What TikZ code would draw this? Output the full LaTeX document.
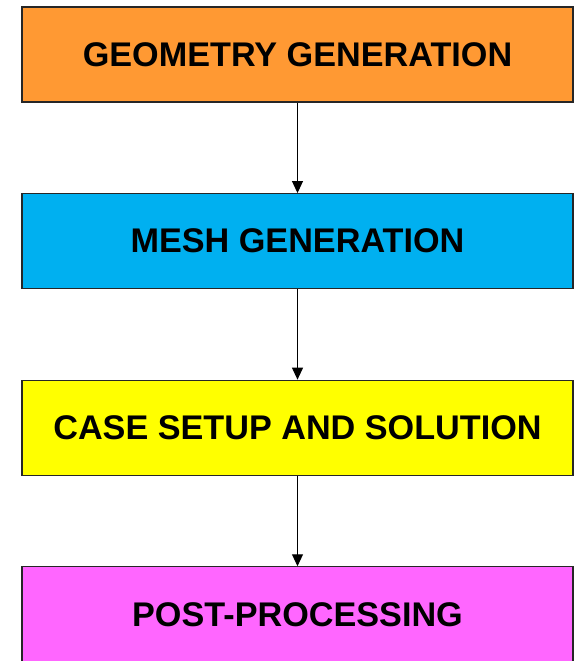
\documentclass[tikz,border=0pt]{standalone}
\usepackage{fontspec}
\setmainfont{Liberation Sans}
\usetikzlibrary{positioning,arrows.meta}
\definecolor{geomorange}{RGB}{255,153,51}
\definecolor{meshblue}{RGB}{0,176,240}
\definecolor{caseyellow}{RGB}{255,255,0}
\definecolor{postpink}{RGB}{255,102,255}
\begin{document}
\begin{tikzpicture}[x=1pt, y=1pt,
    stage/.style={draw=black!85, line width=1.1pt, minimum width=551pt, minimum height=95pt,
                  inner sep=0pt, font=\fontsize{34.2}{36}\selectfont\bfseries},
    flow/.style={draw, line width=1pt, -{Triangle[length=12pt, width=11pt]}}]
  \useasboundingbox (0,0) rectangle (574,-661);
  \node[stage, fill=geomorange] (geom) at (297.5,-54.5) {GEOMETRY GENERATION};
  \node[stage, fill=meshblue, below=90.5pt of geom] (mesh) {MESH GENERATION};
  \node[stage, fill=caseyellow, below=90.5pt of mesh] (case) {CASE SETUP AND SOLUTION};
  \node[stage, fill=postpink, below=90.5pt of case] (post) {POST-PROCESSING};
  \draw[flow] (geom) -- (mesh);
  \draw[flow] (mesh) -- (case);
  \draw[flow] (case) -- (post);
\end{tikzpicture}
\end{document}
